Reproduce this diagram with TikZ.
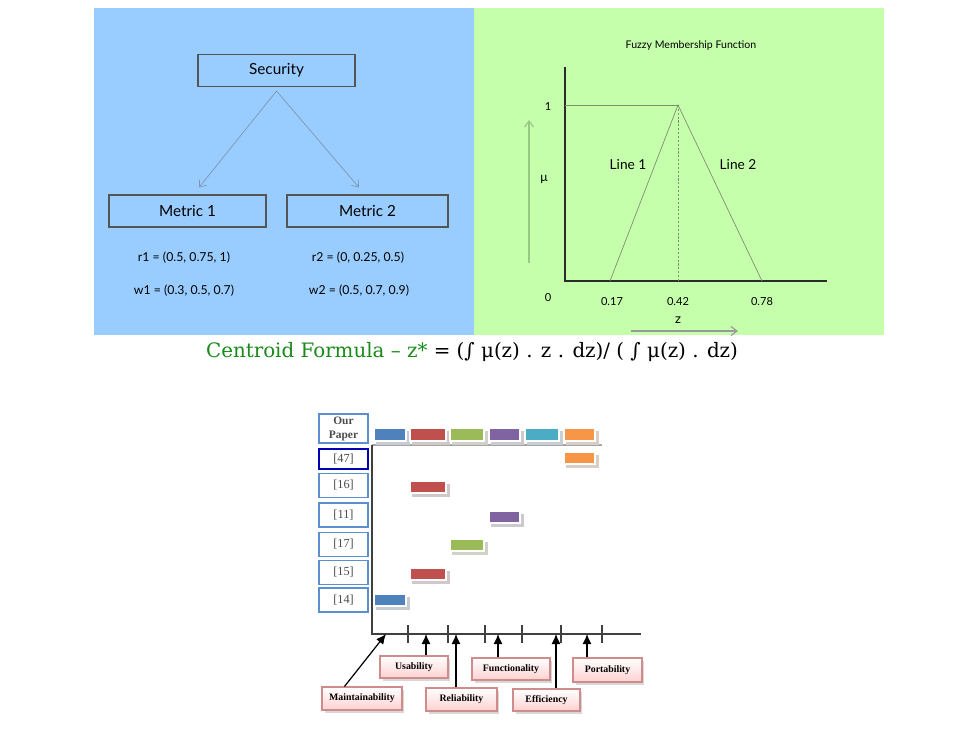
\documentclass[tikz,border=0pt]{standalone}
\usepackage{fontspec}
\setmainfont{Lato}
\newfontfamily\refFont{Liberation Serif}
\newfontfamily\formulaFont{DejaVu Serif}
\usepackage{xcolor}
\definecolor{panelBlue}{RGB}{153,204,255}
\definecolor{panelGreen}{RGB}{198,255,172}
\definecolor{mainDark}{HTML}{2B2B2B}
\definecolor{treeArrow}{HTML}{7C98B4}
\definecolor{plotLine}{HTML}{7E9070}
\definecolor{hintArrow}{HTML}{98C884}
\definecolor{refBorder}{HTML}{5B8FD0}
\definecolor{attrBorder}{HTML}{D08C8A}
\definecolor{formulaGreen}{HTML}{1A8A1A}
\definecolor{barBlue}{HTML}{4F81BD}
\definecolor{barRed}{HTML}{C0504D}
\definecolor{barGreen}{HTML}{9BBB59}
\definecolor{barPurple}{HTML}{8064A2}
\definecolor{barCyan}{HTML}{4BACC6}
\definecolor{barOrange}{HTML}{F79646}
\usetikzlibrary{positioning,calc,arrows.meta,shadows}
\tikzset{
  metricBox/.style={
    rectangle,
    draw=mainDark!80,
    line width=0.6pt,
    minimum width=3.14cm,
    minimum height=0.64cm,
    font=\fontsize{8.7}{10}\selectfont,
    align=center
 },
  valueText/.style={
    font=\fontsize{7}{8}\selectfont,
    inner sep=1pt
 },
  plotText/.style={
    font=\fontsize{6.3}{7}\selectfont,
    inner sep=1pt
 },
  treeArrowLine/.style={
    -{Straight Barb[length=1.2mm,width=1.8mm]},
    thin,
    color=treeArrow
 },
  hintArrowLine/.style={
    -{Straight Barb[length=1.2mm,width=1.8mm]},
    line width=0.7pt,
    color=hintArrow
 },
  refBox/.style={
    rectangle,
    draw=refBorder,
    line width=0.7pt,
    fill=white,
    minimum width=0.98cm,
    minimum height=0.48cm,
    text=black!70,
    font=\refFont\fontsize{7}{7.5}\selectfont,
    align=center,
    inner sep=1pt
 },
  attrBox/.style={
    rectangle,
    draw=attrBorder,
    line width=0.6pt,
    top color=white,
    bottom color=red!18,
    drop shadow={shadow xshift=0.05cm,shadow yshift=-0.05cm,fill=black!30},
    minimum height=0.44cm,
    font=\refFont\bfseries\fontsize{5.6}{6}\selectfont,
    align=center,
    inner sep=1pt
 },
  attrArrow/.style={
    -{Latex[length=2mm,width=1.8mm]},
    line width=0.7pt,
    color=black
 }
}

\begin{document}
\begin{tikzpicture}[x=0.02cm,y=-0.02cm]

            % page and the two panels
            \fill[white] (0,0) rectangle (964,752);
            \useasboundingbox (0,0) rectangle (964,752);
            \fill[panelBlue] (94,8) rectangle (474,335);
            \fill[panelGreen] (474,8) rectangle (884,335);

            % Security tree
            \node[metricBox] (security) at (276.5,70.5) {Security};
            \node[metricBox] (metric1) at (187.5,211) {Metric 1};
            \node[metricBox, minimum width=3.22cm] (metric2) at (367.5,211) {Metric 2};
            \draw[treeArrowLine] ([yshift=-0.08cm]security.south) -- ([xshift=0.23cm,yshift=0.14cm]metric1.north);
            \draw[treeArrowLine] ([yshift=-0.08cm]security.south) -- ([xshift=-0.17cm,yshift=0.14cm]metric2.north);

            % values under the metrics
            \node[valueText] (r1) at (184,258) {r1 = (0.5, 0.75, 1)};
            \node[valueText] (w1) at (184,291) {w1 = (0.3, 0.5, 0.7)};
            \node[valueText] (r2) at (358,258) {r2 = (0, 0.25, 0.5)};
            \node[valueText] (w2) at (359,291) {w2 = (0.5, 0.7, 0.9)};

            % Fuzzy membership plot
            \node[font=\fontsize{6}{7}\selectfont] (plotTitle) at (691,46) {Fuzzy Membership Function};
            \coordinate (origin) at (565,281);
            \coordinate (peak) at (678,105);
            \coordinate (footL) at (610,281);
            \coordinate (footR) at (762,281);
            \draw[mainDark, line width=0.7pt] (565,67) -- (origin) -- (827,281);
            \draw[plotLine, thin] (565,105) -- (peak);
            \draw[plotLine, thin] (footL) -- (peak) -- (footR);
            \draw[plotLine, thin, dash pattern=on 1.2pt off 1pt] (peak) -- (678,281);
            \node[plotText] (one) at (548,107) {1};
            \node[plotText, font=\fontsize{7}{8}\selectfont] (mu) at (544,179) {μ};
            \node[plotText] (zero) at (548,298) {0};
            \node[plotText] (t17) at (612,302) {0.17};
            \node[plotText] (t42) at (678,302) {0.42};
            \node[plotText] (t78) at (762,302) {0.78};
            \node[plotText, font=\fontsize{7.5}{8}\selectfont] (zlabel) at (678,320) {z};
            \node[font=\fontsize{7.8}{9}\selectfont] (line1) at (628,165) {Line 1};
            \node[font=\fontsize{7.8}{9}\selectfont] (line2) at (738,165) {Line 2};
            \coordinate (muFrom) at (529,263);
            \coordinate (muTo) at (529,120);
            \coordinate (zFrom) at (631,331);
            \coordinate (zTo) at (738,331);
            \draw[hintArrowLine] (muFrom) -- (muTo);
            \draw[hintArrowLine, color=black!40] (zFrom) -- (zTo);

            % Centroid formula
            \node[font=\formulaFont\fontsize{11.3}{13}\selectfont] (formula) at (472,352)
              {\textcolor{formulaGreen}{Centroid Formula – z*} = (∫ μ(z) . z . dz)/ ( ∫ μ(z) . dz)};

            % reference rows
            \node[refBox, minimum height=0.58cm, font=\refFont\bfseries\fontsize{6.5}{8}\selectfont] (ourPaper) at (343.5,428.5) {Our\\Paper};
            \node[refBox, draw=blue!70!black, line width=1pt, minimum height=0.40cm] (ref47) at (343.5,459) {[47]};
            \node[refBox] (ref16) at (343.5,485.5) {[16]};
            \node[refBox] (ref11) at (343.5,515) {[11]};
            \node[refBox] (ref17) at (343.5,544.5) {[17]};
            \node[refBox] (ref15) at (343.5,572.5) {[15]};
            \node[refBox] (ref14) at (343.5,600) {[14]};

            % chart axes
            \draw[black!35, line width=0.8pt] (372,445) -- (602,445);
            \draw[black!75, line width=0.9pt] (372,445) -- (372,634) -- (641,634);
            \foreach \x in {408,448,485,522,561,602}
              \draw[black!75, line width=0.8pt] (\x,625) -- (\x,643);

            % coloured bars with their shadows
            \foreach \xa/\xb/\ya/\yb/\col in {374/406/428/441/barBlue, 410/446/428/441/barRed, 450/484/428/441/barGreen,
                489/520/428/441/barPurple, 525/559/428/441/barCyan, 564/595/428/441/barOrange,
                564/595/452/464/barOrange, 410/446/481/493/barRed, 489/520/511/523/barPurple,
                450/484/539/551/barGreen, 410/446/568/580/barRed, 374/406/594/606/barBlue}
            {
              \fill[\col!40!black!25] (\xa+2,\ya+3) rectangle (\xb+4,\yb+4);
              \fill[\col, draw=white, line width=0.6pt] (\xa,\ya) rectangle (\xb,\yb);
            }

            % quality attributes
            \node[attrBox, minimum width=1.36cm] (usability) at (414,667) {Usability};
            \node[attrBox, minimum width=1.56cm] (functionality) at (511,669) {Functionality};
            \node[attrBox, minimum width=1.38cm, minimum height=0.48cm] (portability) at (607.5,670) {Portability};
            \node[attrBox, minimum width=1.6cm, minimum height=0.46cm] (maintainability) at (362,698.5) {Maintainability};
            \node[attrBox, minimum width=1.42cm, minimum height=0.46cm] (reliability) at (461.5,699.5) {Reliability};
            \node[attrBox, minimum width=1.34cm] (efficiency) at (546.5,700) {Efficiency};

            \coordinate (maintTip) at (386,634);
            \coordinate (usabTip) at (426,634);
            \coordinate (reliTip) at (456,634);
            \coordinate (funcTip) at (498,634);
            \coordinate (effiTip) at (556,634);
            \coordinate (portTip) at (587,634);
            \draw[attrArrow] ($(maintainability.north west)+(23,0)$) -- (maintTip);
            \draw[attrArrow] (usability.north -| usabTip) -- (usabTip);
            \draw[attrArrow] (reliability.north -| reliTip) -- (reliTip);
            \draw[attrArrow] (functionality.north -| funcTip) -- (funcTip);
            \draw[attrArrow] (efficiency.north -| effiTip) -- (effiTip);
            \draw[attrArrow] (portability.north -| portTip) -- (portTip);

\end{tikzpicture}
\end{document}
